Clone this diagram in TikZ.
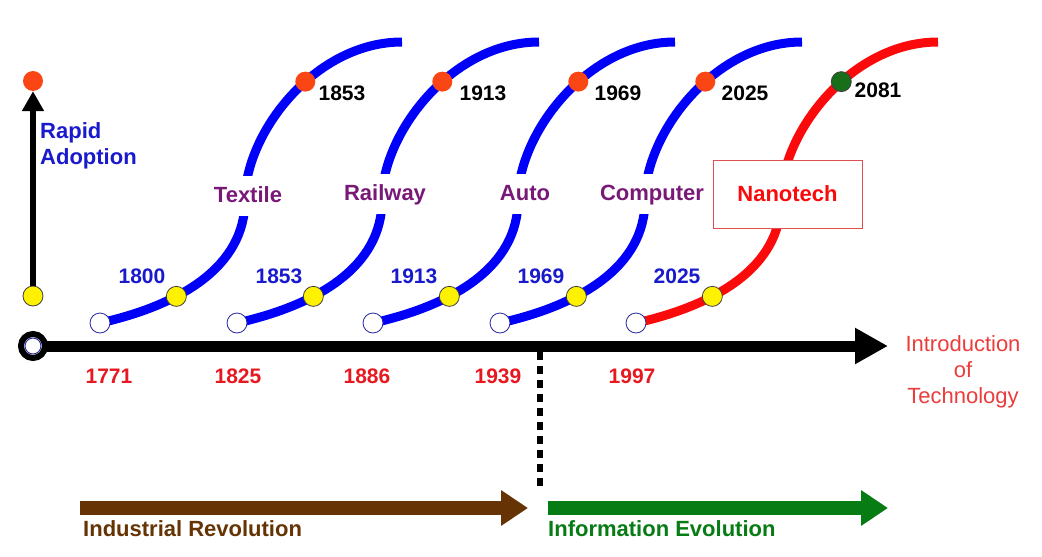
\documentclass[tikz,border=0pt]{standalone}
\usepackage{fontspec}
\setmainfont{Liberation Sans}
\usetikzlibrary{arrows.meta}
\definecolor{cblue}{RGB}{0,0,250}
\definecolor{cyear}{RGB}{25,25,205}
\definecolor{cpurple}{RGB}{120,25,120}
\definecolor{cred}{RGB}{250,10,10}
\definecolor{cyr}{RGB}{232,24,32}
\definecolor{cintro}{RGB}{236,60,60}
\definecolor{cdot}{RGB}{250,70,20}
\definecolor{cgdot}{RGB}{25,110,25}
\definecolor{cbrown}{RGB}{102,52,4}
\definecolor{cgarr}{RGB}{8,124,20}
\definecolor{cnavy}{RGB}{40,40,160}
\definecolor{cbox}{RGB}{225,80,80}
\newcommand\Scurve[4]{%
  \coordinate (s#1) at (#2,323);
  \draw[scurve,#3] (s#1) .. controls +(80,-18) and +(0,67) .. ++(145,-123)
      node[pos=0.35,ydot] (y#1) {}
      .. controls +(0,-67) and +(-87,0) .. ++(157,-158)
      node[pos=0.58,#4] (r#1) {};
  \node[odot] (o#1) at (s#1) {};
}
\begin{document}
\begin{tikzpicture}[x=1pt,y=-1pt,
  scurve/.style={line width=9pt},
  dot/.style={circle,inner sep=0pt,minimum size=20pt},
  ydot/.style={dot,fill=yellow,draw=black!75,line width=0.8pt},
  rdot/.style={dot,fill=cdot},
  gdot/.style={dot,fill=cgdot,draw=black!75,line width=0.8pt},
  odot/.style={dot,fill=white,draw=cnavy,line width=0.8pt},
  techlab/.style={fill=white,inner xsep=2pt,inner ysep=10pt,text height=16pt,text depth=4pt,
    text=cpurple,font=\fontsize{22}{26}\selectfont\bfseries},
  byear/.style={text=cyear,inner sep=0pt,font=\fontsize{21}{24}\selectfont\bfseries},
  tyear/.style={text=black,inner sep=0pt,font=\fontsize{21}{24}\selectfont\bfseries},
  ryear/.style={text=cyr,inner sep=0pt,font=\fontsize{21}{24}\selectfont\bfseries},
  bottomlab/.style={anchor=west,inner sep=0pt,font=\fontsize{22}{26}\selectfont\bfseries},
]
\useasboundingbox[fill=white] (0,0) rectangle (1042,557);

% main axis
\coordinate (oc) at (33,346);
\coordinate (axend) at (888,346);
\draw[line width=11pt,-{Triangle[length=33pt,width=34pt]}] (oc) -- (axend);
\node[circle,inner sep=0pt,minimum size=24pt,draw=black,line width=6pt,fill=white] (o) at (oc) {};
\node[circle,inner sep=0pt,minimum size=16pt,draw=cnavy,line width=0.9pt] (oi) at (oc) {};

% vertical axis
\node[ydot] (ya) at (33,296) {};
\node[rdot] (ra) at (33,81) {};
\draw[line width=5.5pt,-{Triangle[length=20pt,width=21pt]}] (ya) -- (ra);
\node[anchor=north west,inner sep=0pt,align=left,text=cyear,
  font=\fontsize{22}{26}\selectfont\bfseries] (rap) at (40,122) {Rapid\\Adoption};

% S-curves
\Scurve{1}{100}{cblue}{rdot}
\Scurve{2}{237}{cblue}{rdot}
\Scurve{3}{373}{cblue}{rdot}
\Scurve{4}{500}{cblue}{rdot}
\Scurve{5}{636}{cred}{gdot}

\node[techlab] (l1) at (248,196) {Textile};
\node[techlab] (l2) at (385,194) {Railway};
\node[techlab] (l3) at (525,194) {Auto};
\node[techlab] (l4) at (652,194) {Computer};
\node[draw=cbox,line width=0.8pt,fill=white,minimum width=149pt,minimum height=68pt,
  text=cred,font=\fontsize{22}{26}\selectfont\bfseries] (l5) at (787.5,194) {Nanotech};

% blue years
\node[byear] (b1) at (142,276) {1800};
\node[byear] (b2) at (279,276) {1853};
\node[byear] (b3) at (414,276) {1913};
\node[byear] (b4) at (541,276) {1969};
\node[byear] (b5) at (677,276) {2025};

% top years
\node[tyear] (t1) at (342,93) {1853};
\node[tyear] (t2) at (483,93) {1913};
\node[tyear] (t3) at (618,93) {1969};
\node[tyear] (t4) at (745,93) {2025};
\node[tyear] (t5) at (878,90) {2081};

% red years
\node[ryear] (x1) at (109,376) {1771};
\node[ryear] (x2) at (238,376) {1825};
\node[ryear] (x3) at (367,376) {1886};
\node[ryear] (x4) at (498,376) {1939};
\node[ryear] (x5) at (632,376) {1997};

\node[align=center,text=cintro,inner sep=0pt,
  font=\fontsize{22}{26}\selectfont] (intro) at (963,372) {Introduction\\of\\Technology};

% dotted divider
\coordinate (d1) at (540,352);
\coordinate (d2) at (540,490);
\draw[line width=6pt,dash pattern=on 8pt off 6pt] (d1) -- (d2);

% bottom arrows
\coordinate (ib) at (80,508);
\coordinate (ie) at (528,508);
\coordinate (gb) at (548,508);
\coordinate (ge) at (888,508);
\draw[line width=14pt,cbrown,-{Triangle[length=27pt,width=34pt]}] (ib) -- (ie);
\draw[line width=14pt,cgarr,-{Triangle[length=27pt,width=34pt]}] (gb) -- (ge);
\node[bottomlab,text=cbrown] (indl) at (83,529) {Industrial Revolution};
\node[bottomlab,text=cgarr] (infl) at (548,529) {Information Evolution};
\end{tikzpicture}
\end{document}
